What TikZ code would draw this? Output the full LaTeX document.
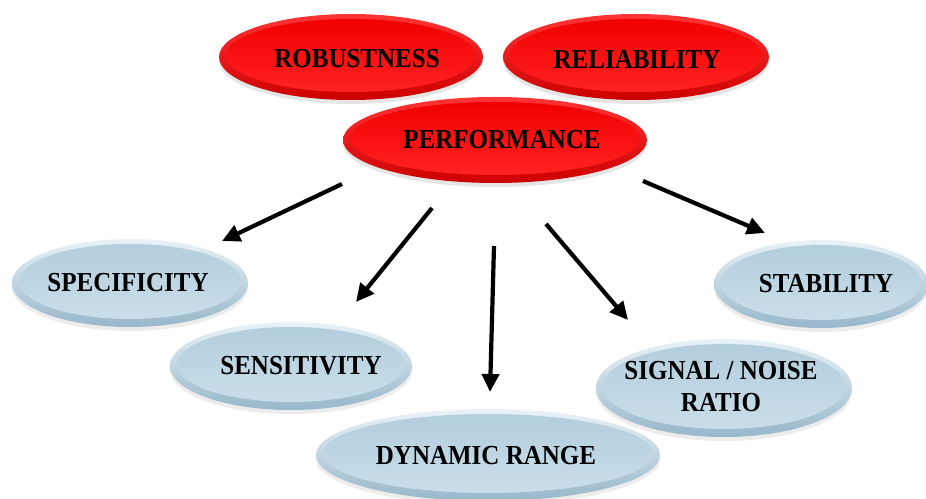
\documentclass[tikz,border=0pt]{standalone}
\usepackage{fontspec}
\setmainfont{Liberation Serif}
\usetikzlibrary{shapes.geometric,arrows.meta,shadows}
\definecolor{redtop}{HTML}{FF3434}
\definecolor{redbot}{HTML}{CC0000}
\definecolor{redintop}{HTML}{F20000}
\definecolor{redinbot}{HTML}{FF2222}
\definecolor{bluetop}{HTML}{E9F2F7}
\definecolor{bluebot}{HTML}{97B7CA}
\definecolor{blueintop}{HTML}{B3CEDD}
\definecolor{blueinbot}{HTML}{C9DEEA}
\tikzset{
  ovalbase/.style={ellipse, inner sep=0pt, draw=none},
  redoval/.style={ovalbase, top color=redtop, bottom color=redbot,
    drop shadow={opacity=0.2, shadow xshift=0pt, shadow yshift=-4pt}},
  redinner/.style={top color=redintop, bottom color=redinbot},
  blueoval/.style={ovalbase, top color=bluetop, bottom color=bluebot,
    drop shadow={opacity=0.15, shadow xshift=0pt, shadow yshift=-4pt}},
  blueinner/.style={top color=blueintop, bottom color=blueinbot},
  lbl/.style={font=\fontsize{25}{29}\selectfont\bfseries, inner sep=0pt, text=black},
  arr/.style={line width=4.2pt, black, -{Triangle[length=18pt,width=17pt]}}
}
\newcommand\ovalpair[6]{%
  \node[#2oval, minimum width={2*#5}, minimum height={2*#6}] (#1) at (#3,#4) {};
  \shade[#2inner] (#3,{#4+1.5}) ellipse [x radius={#5-7}, y radius={#6-6.5}];
}
\begin{document}
\begin{tikzpicture}[x=1pt,y=1pt]
\useasboundingbox (0,0) rectangle (926,498);
\fill[white] (0,0) rectangle (926,498);
% red ovals
\ovalpair{rob}{red}{351}{441}{132}{43}
\ovalpair{rel}{red}{636}{441}{133}{43}
\ovalpair{perf}{red}{495}{358}{152}{43}
% blue ovals
\ovalpair{spec}{blue}{130}{215}{118}{44}
\ovalpair{stab}{blue}{821}{214}{107}{44}
\ovalpair{sens}{blue}{291}{132}{121}{44}
\ovalpair{sig}{blue}{724}{110}{128}{49}
\ovalpair{dr}{blue}{488}{43}{172}{46}
% labels
\node[lbl] (robt) at (357,439) {\scalebox{1}[1.1]{ROBUSTNESS}};
\node[lbl] (relt) at (637,439) {\scalebox{1}[1.1]{RELIABILITY}};
\node[lbl] (perft) at (502,358) {\scalebox{1}[1.1]{PERFORMANCE}};
\node[lbl] (spect) at (128,215) {\scalebox{1}[1.1]{SPECIFICITY}};
\node[lbl] (stabt) at (826,214) {\scalebox{1}[1.1]{STABILITY}};
\node[lbl] (senst) at (301,132) {\scalebox{1}[1.1]{SENSITIVITY}};
\node[lbl] (sigt) at (721,109) {\scalebox{1}[1.1]{\begin{tabular}{@{}c@{}}SIGNAL / NOISE\\RATIO\end{tabular}}};
\node[lbl] (drt) at (486,42) {\scalebox{1}[1.1]{DYNAMIC RANGE}};
% arrows
\coordinate (a1s) at (342,314); \coordinate (a1e) at (222,257);
\coordinate (a2s) at (432,290); \coordinate (a2e) at (356,196);
\coordinate (a3s) at (494,252); \coordinate (a3e) at (490,106);
\coordinate (a4s) at (546,274); \coordinate (a4e) at (628,178);
\coordinate (a5s) at (643,317); \coordinate (a5e) at (765,265);
\draw[arr] (a1s) -- (a1e);
\draw[arr] (a2s) -- (a2e);
\draw[arr] (a3s) -- (a3e);
\draw[arr] (a4s) -- (a4e);
\draw[arr] (a5s) -- (a5e);
\end{tikzpicture}
\end{document}
